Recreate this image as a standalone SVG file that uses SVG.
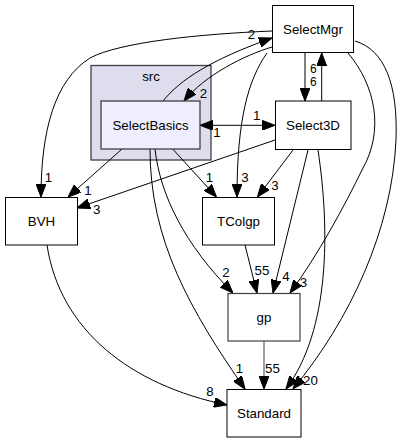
<svg xmlns="http://www.w3.org/2000/svg" width="405" height="443" viewBox="0 0 405 443">
<style>
text{font-family:"Liberation Sans",Arial,Helvetica,sans-serif;font-size:13.3px;fill:#000;text-anchor:middle}
.node{fill:#fff;stroke:#000;stroke-width:1}
.e{fill:none;stroke:#000;stroke-width:1;marker-end:url(#ah)}
.lbl{font-size:13.3px}
.sm{font-size:12px}
</style>
<defs>
<marker id="ah" markerUnits="userSpaceOnUse" markerWidth="13" markerHeight="10" refX="13" refY="5" orient="auto-start-reverse" viewBox="0 0 13 10">
<path d="M0,0 L13,5 L0,10 z" fill="#000" stroke="#000" stroke-width="1"/>
</marker>
</defs>
<rect width="405" height="443" fill="#fff"/>
<g id="cluster_src">
<rect x="91" y="65.5" width="120" height="94.5" fill="#ddddee" stroke="#404040" stroke-width="1.3"/>
<text x="151" y="81">src</text>
</g>
<g id="connectors">
<path class="e" d="M272,31 C200,34 120,42 90,58 C55,80 41,130 41,197"/>
<path class="e" d="M163,101 C180,80 210,60 272,38"/>
<path class="e" d="M272,47 C245,55 205,75 184,101"/>
<path class="e" d="M305,53 L305,101"/>
<path class="e" d="M321.7,101 L321.7,53"/>
<path class="e" d="M200,125.3 L275,125.3" style="marker-start:url(#ah)"/>
<path class="e" d="M275,140 L77,208"/>
<path class="e" d="M122,149 L68,197"/>
<path class="e" d="M172.7,149 L216.5,197"/>
<path class="e" d="M267,53 C248,80 237,120 237,197"/>
<path class="e" d="M293,150 L257.5,197"/>
<path class="e" d="M155,149 C160,195 185,245 233,293"/>
<path class="e" d="M150,149 C150,240 190,310 245,389"/>
<path class="e" d="M245,245 L257,293"/>
<path class="e" d="M308,150 L273,293"/>
<path class="e" d="M348,53 C375,85 385,130 362,170 C345,205 318,255 290,293"/>
<path class="e" d="M318,150 C330,230 330,330 286,389"/>
<path class="e" d="M355,41 C385,50 398,85 396,140 C392,230 350,320 293,389"/>
<path class="e" d="M47,245 C60,330 130,385 227,405"/>
<path class="e" d="M264,341 L264,389" style="stroke:#404040"/>
<text class="lbl" x="48.5" y="182">1</text>
<text class="lbl" x="251.5" y="38.5">2</text>
<text class="lbl" x="203.5" y="98">2</text>
<text class="sm" x="313.3" y="72.5">6</text>
<text class="sm" x="313.3" y="86">6</text>
<text class="lbl" x="256.7" y="120">1</text>
<text class="lbl" x="217" y="137">1</text>
<text class="lbl" x="96.7" y="213.5">3</text>
<text class="lbl" x="88" y="195">1</text>
<text class="lbl" x="209.5" y="181.5">1</text>
<text class="lbl" x="245" y="181.5">3</text>
<text class="lbl" x="275" y="190">3</text>
<text class="lbl" x="226" y="277">2</text>
<text class="lbl" x="239.5" y="373">1</text>
<text class="lbl" x="262" y="275">55</text>
<text class="lbl" x="286" y="280.7">4</text>
<text class="lbl" x="303.5" y="287">3</text>
<text class="lbl" x="298.5" y="385">1</text>
<text class="lbl" x="310.5" y="385">20</text>
<text class="lbl" x="210" y="396">8</text>
<text class="lbl" x="272.5" y="373">55</text>
</g>
<g id="SelectMgr">
<rect class="node" x="272.5" y="5.5" width="81" height="47"/>
<text x="313" y="33.5">SelectMgr</text>
</g>
<g id="SelectBasics">
<rect x="101" y="101" width="99" height="48" fill="#eeeeff" stroke="#404040" stroke-width="1.3"/>
<text x="150.5" y="129.5">SelectBasics</text>
</g>
<g id="Select3D">
<rect class="node" x="275.5" y="101" width="75.5" height="48.5"/>
<text x="313" y="129.5">Select3D</text>
</g>
<g id="BVH">
<rect class="node" x="5.5" y="197.5" width="72" height="47.5"/>
<text x="41.5" y="225.5">BVH</text>
</g>
<g id="TColgp">
<rect class="node" x="202.5" y="197.5" width="72" height="47.5"/>
<text x="238.5" y="225.5">TColgp</text>
</g>
<g id="gp">
<rect class="node" x="228" y="293.5" width="72" height="47.5" style="stroke:#404040;stroke-width:1.2"/>
<text x="264" y="322">gp</text>
</g>
<g id="Standard">
<rect class="node" x="227" y="389.5" width="74" height="47.5"/>
<text x="264" y="417.5">Standard</text>
</g>
</svg>
